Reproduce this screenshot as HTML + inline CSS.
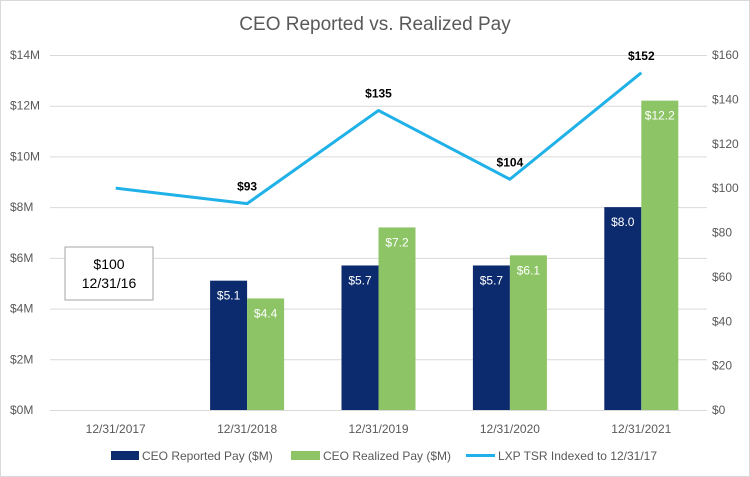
<!DOCTYPE html>
<html><head><meta charset="utf-8"><style>
body{margin:0;background:#fff}
svg{display:block;font-family:"Liberation Sans",sans-serif}
</style></head><body>
<svg id="c" width="750" height="477">
<rect x="0.5" y="0.5" width="749" height="476" fill="#fff" stroke="#d9d9d9"/>
<text x="375" y="30" text-anchor="middle" font-size="19" fill="#595959">CEO Reported vs. Realized Pay</text>
<g id="grid"></g><g id="bars"></g><g id="line"></g><g id="labels"></g>
<g>
<rect x="65" y="247" width="88" height="53" fill="#fff" stroke="#a6a6a6"/>
<text x="109" y="269" text-anchor="middle" font-size="14" fill="#000">$100</text>
<text x="109" y="288" text-anchor="middle" font-size="14" fill="#000">12/31/16</text>
</g>
<g font-size="12" fill="#595959">
<rect x="111" y="451" width="28" height="9" fill="#0c2a6e"/>
<text x="142" y="460">CEO Reported Pay ($M)</text>
<rect x="291" y="451" width="29" height="9" fill="#8cc466"/>
<text x="323" y="460">CEO Realized Pay ($M)</text>
<line x1="466" y1="455.5" x2="495" y2="455.5" stroke="#1fb1e8" stroke-width="3"/>
<text x="498" y="460">LXP TSR Indexed to 12/31/17</text>
</g>
</svg>
<script>
const categories=["12/31/2017","12/31/2018","12/31/2019","12/31/2020","12/31/2021"];
const reported=[null,5.1,5.7,5.7,8.0];
const realized=[null,4.4,7.2,6.1,12.2];
const tsr=[100,93,135,104,152];
const tsrLabels=[null,"$93","$135","$104","$152"];
const leftTicks=[0,2,4,6,8,10,12,14];
const rightTicks=[0,20,40,60,80,100,120,140,160];
const NS="http://www.w3.org/2000/svg";
const X0=50,X1=707,Y0=410,Y1=55;
const band=(X1-X0)/categories.length;
const xc=i=>X0+band*(i+0.5);
const yL=v=>Y0-(v/14)*(Y0-Y1);
const yR=v=>Y0-(v/160)*(Y0-Y1);
function mk(tag,attrs,parent,txt){const e=document.createElementNS(NS,tag);for(const k in attrs)e.setAttribute(k,attrs[k]);if(txt!=null)e.textContent=txt;document.getElementById(parent).appendChild(e);return e;}
leftTicks.forEach(t=>{
  const l=mk('line',{x1:X0,x2:X1,y1:yL(t)+0.5,y2:yL(t)+0.5,stroke:'#d9d9d9'},'grid');
  
  
  const s=mk('text',{x:10,y:yL(t)+4,'font-size':12,fill:'#595959'},'grid','$'+t+'M');
  
  
});
rightTicks.forEach(t=>{
  const s=mk('text',{x:712,y:yR(t)+4,'font-size':12,fill:'#595959'},'grid','$'+t);
  
  
});
categories.forEach((c,i)=>{
  const s=mk('text',{x:xc(i),y:433,'text-anchor':'middle','font-size':12,fill:'#595959'},'grid',c);
  
  
});
const bw=37;
categories.forEach((c,i)=>{
  if(reported[i]!=null){
    const r=mk('rect',{x:xc(i)-bw,y:yL(reported[i]),width:bw,height:Y0-yL(reported[i]),fill:'#0c2a6e'},'bars');
    
    
    const t=mk('text',{x:xc(i)-bw/2,y:yL(reported[i])+19,'text-anchor':'middle','font-size':12,fill:'#fff'},'labels','$'+reported[i].toFixed(1));
    
    
  }
  if(realized[i]!=null){
    const r=mk('rect',{x:xc(i),y:yL(realized[i]),width:bw,height:Y0-yL(realized[i]),fill:'#8cc466'},'bars');
    
    
    const t=mk('text',{x:xc(i)+bw/2,y:yL(realized[i])+19,'text-anchor':'middle','font-size':12,fill:'#fff'},'labels','$'+realized[i].toFixed(1));
    
    
  }
});
const pts=tsr.map((v,i)=>xc(i)+','+yR(v)).join(' ');
const pl=mk('polyline',{points:pts,fill:'none',stroke:'#1fb1e8','stroke-width':3,'stroke-linejoin':'round'},'line');


tsr.forEach((v,i)=>{
  if(tsrLabels[i]){
    const t=mk('text',{x:xc(i),y:yR(v)-13,'text-anchor':'middle','font-size':12,'font-weight':'bold',fill:'#000'},'labels',tsrLabels[i]);
    
    
  }
});
</script>
</body></html>
